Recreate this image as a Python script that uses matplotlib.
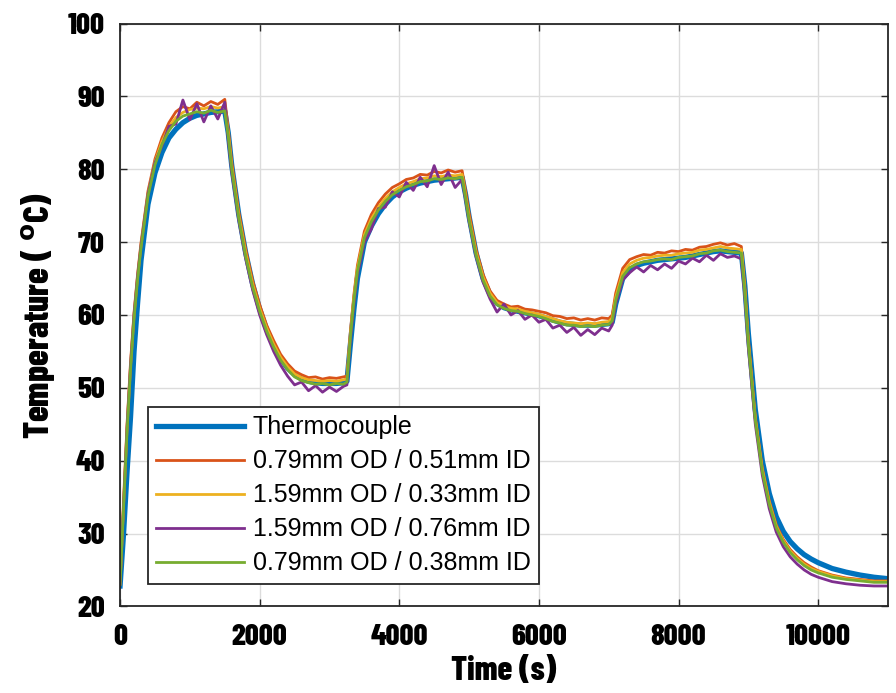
import matplotlib
matplotlib.use("Agg")
import matplotlib.pyplot as plt
from matplotlib import font_manager
from matplotlib.font_manager import FontProperties

time_s = [0, 50, 100, 150, 200, 250, 300, 400, 500, 600, 700, 800, 900, 1000, 1100, 1200, 1300, 1400, 1500,
          1550, 1600, 1700, 1800, 1900, 2000, 2100, 2200, 2300, 2400, 2500, 2600, 2700, 2800, 2900, 3000, 3100,
          3200, 3250, 3300, 3350, 3400, 3500, 3600, 3700, 3800, 3900, 4000, 4100, 4200, 4300, 4400, 4500, 4600,
          4700, 4800, 4900, 4950, 5000, 5100, 5200, 5300, 5400, 5500, 5600, 5700, 5800, 5900, 6000, 6100, 6200,
          6300, 6400, 6500, 6600, 6700, 6800, 6900, 7000, 7050, 7100, 7200, 7300, 7400, 7500, 7600, 7700, 7800,
          7900, 8000, 8100, 8200, 8300, 8400, 8500, 8600, 8700, 8800, 8900, 8950, 9000, 9100, 9200, 9300, 9400,
          9500, 9600, 9700, 9800, 9900, 10000, 10200, 10400, 10600, 10800, 11000]

thermocouple = [22.8, 30.0, 38.5, 46.0, 55.0, 61.5, 67.5, 75.2, 79.5, 82.3, 84.3, 85.5, 86.4, 87.0, 87.4, 87.6, 87.8, 87.9, 88.0,
                85.0, 80.5, 73.8, 68.5, 64.2, 60.8, 58.0, 55.8, 54.0, 52.7, 51.8, 51.2, 50.9, 50.7, 50.6, 50.6, 50.6,
                50.7, 50.9, 56.0, 60.8, 65.0, 70.0, 72.2, 73.9, 75.2, 76.2, 76.9, 77.4, 77.8, 78.1, 78.3, 78.5, 78.6,
                78.7, 78.8, 78.9, 76.5, 73.5, 68.5, 65.0, 62.8, 61.6, 61.0, 60.7, 60.5, 60.3, 60.1, 59.9, 59.6, 59.3,
                59.0, 58.8, 58.7, 58.6, 58.6, 58.6, 58.7, 58.8, 59.0, 61.5, 65.0, 66.2, 66.8, 67.1, 67.3, 67.5, 67.6,
                67.7, 67.8, 67.9, 68.1, 68.3, 68.5, 68.7, 68.8, 68.7, 68.6, 68.5, 64.0, 57.5, 47.0, 40.0, 35.5, 32.3,
                30.3, 28.9, 27.9, 27.1, 26.5, 26.0, 25.2, 24.7, 24.3, 24.0, 23.8]

od079_id051 = [23.2, 34.5, 45.0, 53.5, 60.3, 65.5, 69.9, 77.0, 81.4, 84.3, 86.4, 87.9, 88.6, 88.3, 89.2, 88.7, 89.3, 88.9, 89.6,
               85.5, 81.0, 74.2, 69.0, 64.7, 61.4, 58.6, 56.5, 54.6, 53.3, 52.3, 51.8, 51.4, 51.5, 51.2, 51.4, 51.3,
               51.5, 51.6, 57.8, 62.8, 66.8, 71.5, 73.8, 75.4, 76.6, 77.5, 78.0, 78.6, 78.8, 79.3, 79.2, 79.7, 79.5,
               79.9, 79.6, 79.8, 77.0, 74.0, 69.0, 65.6, 63.3, 62.0, 61.5, 61.1, 61.2, 60.8, 60.7, 60.5, 60.3, 59.9,
               59.8, 59.5, 59.6, 59.3, 59.5, 59.3, 59.6, 59.5, 60.0, 63.0, 66.4, 67.6, 68.0, 68.3, 68.2, 68.6, 68.5,
               68.8, 68.7, 69.0, 68.9, 69.3, 69.4, 69.7, 69.9, 69.6, 69.8, 69.4, 64.0, 56.8, 46.0, 39.0, 34.5, 31.2,
               29.2, 27.8, 26.8, 26.0, 25.4, 24.9, 24.3, 23.9, 23.7, 23.5, 23.5]

od159_id033 = [23.1, 34.0, 44.6, 53.1, 60.0, 65.2, 69.6, 76.7, 81.0, 83.8, 85.8, 87.1, 87.8, 88.2, 88.4, 88.3, 88.6, 88.4, 88.6,
               85.0, 80.4, 73.7, 68.5, 64.2, 60.9, 58.2, 56.0, 54.2, 52.9, 51.9, 51.4, 51.1, 51.0, 50.9, 51.0, 50.9,
               51.1, 51.2, 57.4, 62.4, 66.4, 71.0, 73.2, 74.8, 76.0, 76.9, 77.5, 78.0, 78.3, 78.7, 78.8, 79.1, 79.0,
               79.2, 79.1, 79.3, 76.4, 73.4, 68.6, 65.2, 63.0, 61.7, 61.2, 60.9, 60.8, 60.5, 60.3, 60.1, 59.8, 59.5,
               59.2, 59.0, 58.9, 58.8, 58.9, 58.8, 59.0, 59.1, 59.6, 62.4, 65.8, 67.0, 67.5, 67.8, 67.9, 68.1, 68.2,
               68.2, 68.4, 68.5, 68.6, 68.9, 69.0, 69.2, 69.4, 69.2, 69.1, 69.0, 63.5, 56.4, 45.8, 38.8, 34.3, 31.0,
               29.0, 27.6, 26.6, 25.8, 25.2, 24.8, 24.2, 23.8, 23.6, 23.4, 23.4]

od159_id076 = [23.0, 33.8, 44.5, 53.0, 60.0, 65.2, 69.5, 76.6, 80.9, 83.2, 85.9, 86.2, 89.5, 86.8, 89.0, 86.5, 88.7, 86.9, 89.2,
               84.0, 79.6, 73.0, 67.7, 63.4, 60.0, 57.3, 55.0, 53.1, 51.6, 50.4, 50.8, 49.6, 50.3, 49.4, 50.1, 49.5,
               50.2, 50.4, 56.6, 61.5, 65.5, 70.0, 71.8, 74.6, 74.8, 76.9, 76.2, 78.2, 77.1, 78.9, 77.6, 80.5, 77.9,
               79.6, 77.5, 78.6, 75.8, 72.8, 68.0, 64.5, 62.2, 60.4, 61.5, 60.0, 60.6, 59.4, 60.0, 59.0, 59.4, 58.2,
               58.6, 57.6, 58.3, 57.2, 58.0, 57.3, 58.2, 57.8, 58.6, 61.5, 64.8, 65.8, 66.6, 65.9, 66.8, 66.2, 67.0,
               66.4, 67.4, 67.0, 67.8, 67.3, 68.2, 67.5, 68.4, 67.9, 68.1, 67.7, 62.5, 55.5, 45.0, 38.0, 33.4, 30.2,
               28.2, 26.8, 25.8, 25.0, 24.4, 24.0, 23.4, 23.1, 22.9, 22.8, 22.8]

od079_id038 = [23.0, 33.5, 44.0, 52.5, 59.5, 64.8, 69.2, 76.3, 80.6, 83.4, 85.3, 86.6, 87.3, 87.6, 87.9, 87.7, 88.1, 87.8, 88.0,
               84.5, 80.0, 73.3, 68.0, 63.8, 60.5, 57.8, 55.6, 53.8, 52.5, 51.5, 51.0, 50.7, 50.5, 50.6, 50.4, 50.6,
               50.5, 50.8, 57.0, 62.0, 66.0, 70.6, 72.8, 74.4, 75.6, 76.5, 77.1, 77.6, 77.9, 78.3, 78.4, 78.7, 78.6,
               78.8, 78.7, 78.9, 76.0, 73.0, 68.2, 64.8, 62.6, 61.4, 60.9, 60.6, 60.5, 60.2, 60.0, 59.8, 59.5, 59.1,
               58.9, 58.6, 58.6, 58.4, 58.5, 58.4, 58.6, 58.7, 59.2, 62.0, 65.3, 66.5, 67.0, 67.3, 67.4, 67.6, 67.7,
               67.6, 67.9, 68.0, 68.1, 68.4, 68.5, 68.8, 68.9, 68.7, 68.6, 68.5, 63.0, 56.0, 45.5, 38.5, 34.0, 30.8,
               28.8, 27.4, 26.4, 25.6, 25.0, 24.6, 24.0, 23.7, 23.5, 23.3, 23.3]

labels = ["Thermocouple", "0.79mm OD / 0.51mm ID", "1.59mm OD / 0.33mm ID",
          "1.59mm OD / 0.76mm ID", "0.79mm OD / 0.38mm ID"]
colors = ["#0072BD", "#D95319", "#EDB120", "#7E2F8E", "#77AC30"]
x_ticks = [0, 2000, 4000, 6000, 8000, 10000]
y_ticks = [20, 30, 40, 50, 60, 70, 80, 90, 100]


def pick_font(names, weights):
    fl = font_manager.fontManager.ttflist
    for n in names:
        for w in weights:
            for f in fl:
                if f.name == n and f.style == "normal" and str(f.weight) == str(w):
                    return FontProperties(fname=f.fname)
    return FontProperties(family="Liberation Sans", weight="bold")


heavy = pick_font(["Liberation Sans Narrow", "Arial Narrow", "Barlow Condensed", "Asap Condensed"],
                  [800, 700, 900])


def fp(size):
    p = heavy.copy()
    p.set_size(size)
    return p


fig = plt.figure(figsize=(8.96, 6.93), dpi=100)
ax = fig.add_axes([0.134, 0.125, 0.857, 0.841])

series = [thermocouple, od079_id051, od159_id033, od159_id076, od079_id038]
widths = [3.8, 2.0, 2.0, 2.0, 2.0]
for s, c, lab, w in zip(series, colors, labels, widths):
    ax.plot(time_s, s, color=c, lw=w, label=lab)

ax.set_xlim(0, 11000)
ax.set_ylim(20, 100)
ax.set_xticks(x_ticks)
ax.set_yticks(y_ticks)
ax.grid(True, color="#dcdcdc", lw=1.0)
ax.set_axisbelow(True)
ax.tick_params(direction="in", length=5, width=1, top=True, right=True, color="#262626")
ax.tick_params(axis="y", pad=11)
ax.tick_params(axis="x", pad=13)
for sp in ax.spines.values():
    sp.set_linewidth(1.3)
    sp.set_color("#262626")

for lbl in ax.get_xticklabels() + ax.get_yticklabels():
    lbl.set_fontproperties(fp(22))

ax.set_xlabel("Time (s)", fontproperties=fp(24), labelpad=3)
ax.set_ylabel("Temperature ( $^{\\mathbf{o}}$C)", fontproperties=fp(25.5), labelpad=8)

leg = ax.legend(loc="lower left", bbox_to_anchor=(0.036, 0.038), borderaxespad=0,
                prop={"family": "Liberation Sans", "size": 18},
                frameon=True, fancybox=False, edgecolor="#262626", framealpha=1, handlelength=3.5,
                handletextpad=0.35, labelspacing=0.4, borderpad=0.35)
leg.get_frame().set_linewidth(1.3)

fig.savefig("out.png", dpi=100)
